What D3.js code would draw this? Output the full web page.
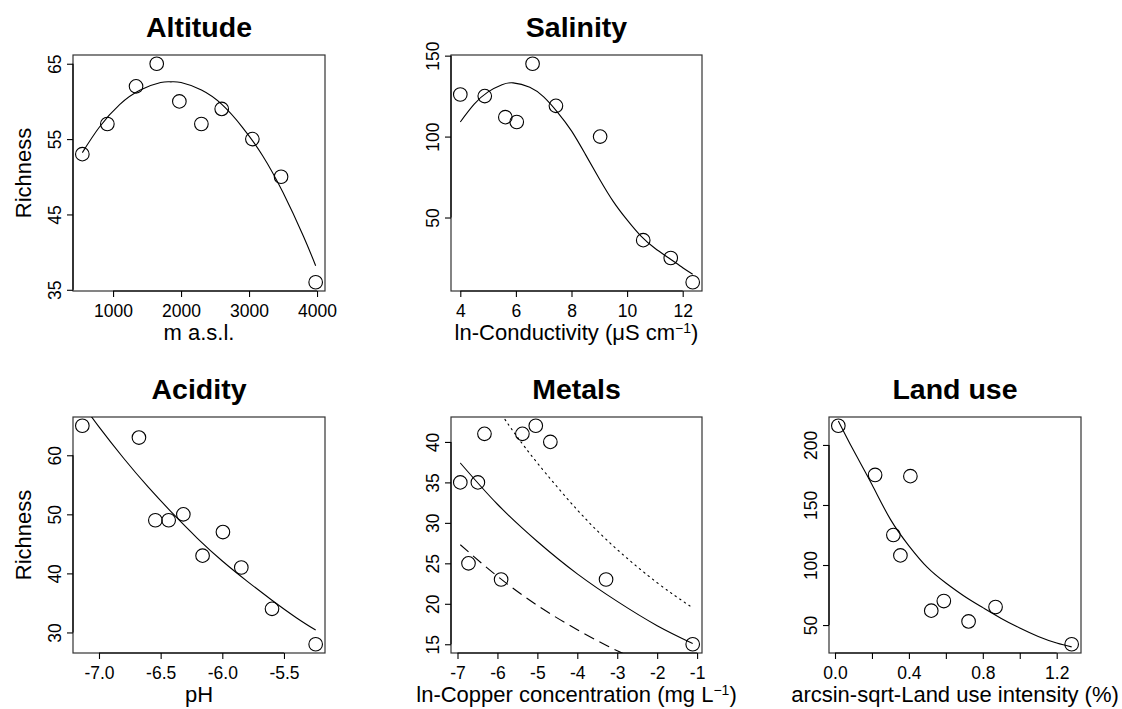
<!DOCTYPE html>
<html>
<head>
<meta charset="utf-8">
<script src="https://cdn.jsdelivr.net/npm/d3@7"></script>
<style>
  html, body { margin: 0; padding: 0; background: #fff; }
  svg { display: block; }
  text { font-family: "Liberation Sans", Arial, Helvetica, sans-serif; fill: #000; }
</style>
</head>
<body>
<svg id="chart" width="1122" height="709"></svg>
<script>
// ---------------- DATA ----------------
const titles = ["Altitude", "Salinity", "Acidity", "Metals", "Land use"];

// Altitude
const altitudeX = [548, 916, 1338, 1642, 1975, 2299, 2598, 3049, 3471, 3980];
const altitudeY = [53, 57, 62, 65, 60, 57, 59, 55, 50, 36];
const altitudeFitX = [548, 800, 1100, 1400, 1700, 1850, 2000, 2300, 2600, 2900, 3200, 3500, 3800, 3980];
const altitudeFitY = [53.2, 56.6, 59.6, 61.5, 62.5, 62.6, 62.5, 61.5, 59.6, 56.6, 52.8, 47.9, 42.1, 38.2];
const altitudeXTicks = [1000, 2000, 3000, 4000];
const altitudeYTicks = [35, 45, 55, 65];

// Salinity
const salinityX = [4.0, 4.88, 5.62, 6.03, 6.6, 7.44, 9.03, 10.58, 11.57, 12.36];
const salinityY = [126, 125, 112, 109, 145, 119, 100, 36, 25, 10];
const salinityFitX = [4.0, 4.5, 5.0, 5.5, 5.9, 6.5, 7.0, 7.5, 8.0, 8.5, 9.0, 9.5, 10.0, 10.5, 11.0, 11.5, 12.0, 12.36];
const salinityFitY = [109, 120, 127.6, 132, 133.2, 130.5, 124.5, 115, 103.5, 89, 74, 60, 48.5, 38.5, 31, 25, 19, 15];
const salinityXTicks = [4, 6, 8, 10, 12];
const salinityYTicks = [50, 100, 150];

// Acidity
const acidityX = [-7.135, -6.676, -6.543, -6.435, -6.316, -6.16, -5.995, -5.846, -5.597, -5.243];
const acidityY = [65, 63, 49, 49, 50, 43, 47, 41, 34, 28];
const acidityFitX = [-7.135, -7.0, -6.8, -6.6, -6.4, -6.2, -6.0, -5.8, -5.6, -5.4, -5.243];
const acidityFitY = [68.7, 64.8, 59.5, 54.6, 50.1, 45.9, 42.1, 38.7, 35.5, 32.5, 30.4];
const acidityXTicks = [-7.0, -6.5, -6.0, -5.5];
const acidityYTicks = [30, 40, 50, 60];

// Metals
const metalsX = [-6.93, -6.49, -6.325, -5.375, -5.04, -4.675, -6.725, -5.908, -3.28, -1.11];
const metalsY = [35, 35, 41, 41, 42, 40, 25, 23, 23, 15];
const metalsFitX = [-6.93, -6, -5, -4, -3, -2, -1.11];
const metalsSolidY = [37.4, 32.3, 27.7, 23.7, 20.3, 17.3, 15.1];
const metalsDashedY = [27.3, 23.4, 19.8, 16.8, 14.2, 12.0, 10.4];
const metalsDottedX = [-6.93, -6, -5.5, -5, -4, -3, -2, -1.17];
const metalsDottedY = [51.6, 44.2, 40.6, 37.4, 31.6, 26.7, 22.6, 19.7];
const metalsXTicks = [-7, -6, -5, -4, -3, -2, -1];
const metalsYTicks = [15, 20, 25, 30, 35, 40];

// Land use
const landX = [0.018, 0.217, 0.408, 0.316, 0.354, 0.521, 0.589, 0.723, 0.869, 1.281];
const landY = [216, 175, 174, 125, 108, 62, 70, 53, 65, 34];
const landFitX = [0.018, 0.1, 0.2, 0.3, 0.4, 0.5, 0.6, 0.7, 0.8, 0.9, 1.0, 1.1, 1.2, 1.281];
const landFitY = [220, 195.5, 167, 138, 116, 98, 85, 74, 64.5, 55.5, 47.5, 40.5, 35, 31.8];
const landXTicks = [0, 0.2, 0.4, 0.6, 0.8, 1.0, 1.2];
const landXLabelled = [0, 0.4, 0.8, 1.2];
const landYTicks = [50, 100, 150, 200];

// ---------------- DRAWING ----------------
const svg = d3.select("#chart");
const TICK_FS = 17.5, LAB_FS = 22, TITLE_FS = 28.5;
const hy = s => s.replace(/\u2212/g, "-");

function padded(vals) {
  const [a, b] = d3.extent(vals);
  const p = (b - a) * 0.04;
  return [a - p, b + p];
}

let clipId = 0;
function panel(o) {
  const { x0, x1, y0, y1 } = o.box;
  const x = d3.scaleLinear().domain(padded(o.xs)).range([x0, x1]);
  const y = d3.scaleLinear().domain(padded(o.ys)).range([y1, y0]);
  const g = svg.append("g");

  const cid = "clip" + (clipId++);
  svg.append("clipPath").attr("id", cid).append("rect")
    .attr("x", x0).attr("y", y0).attr("width", x1 - x0).attr("height", y1 - y0);

  g.append("rect").attr("x", x0).attr("y", y0).attr("width", x1 - x0).attr("height", y1 - y0)
    .attr("fill", "none").attr("stroke", "#333").attr("stroke-width", 1.2);

  const xa = d3.axisBottom(x).tickValues(o.xTicks).tickSize(6).tickPadding(8)
    .tickFormat(o.xFormat);
  const gx = g.append("g").attr("transform", `translate(0,${y1})`).call(xa);
  gx.select(".domain").remove();
  gx.append("line").attr("x1", x(d3.min(o.xTicks))).attr("x2", x(d3.max(o.xTicks)))
    .attr("stroke", "#000").attr("stroke-width", 1.2);
  gx.selectAll(".tick line").attr("stroke", "#000").attr("stroke-width", 1.1);
  gx.selectAll(".tick text").attr("font-size", TICK_FS).attr("fill", "#000")
    .style("font-family", '"Liberation Sans", Arial, sans-serif');

  const ya = d3.axisLeft(y).tickValues(o.yTicks).tickSize(6).tickFormat(d3.format("d"));
  const gy = g.append("g").attr("transform", `translate(${x0},0)`).call(ya);
  gy.select(".domain").remove();
  gy.append("line").attr("y1", y(d3.min(o.yTicks))).attr("y2", y(d3.max(o.yTicks)))
    .attr("stroke", "#000").attr("stroke-width", 1.2);
  gy.selectAll(".tick line").attr("stroke", "#000").attr("stroke-width", 1.1);
  gy.selectAll(".tick text").attr("font-size", TICK_FS).attr("fill", "#000")
    .style("font-family", '"Liberation Sans", Arial, sans-serif')
    .attr("x", null).attr("dy", null).attr("y", null)
    .attr("text-anchor", "middle")
    .attr("transform", "translate(-12.5,0) rotate(-90)");

  g.append("text").attr("x", (x0 + x1) / 2).attr("y", y0 - 18)
    .attr("text-anchor", "middle").attr("font-size", TITLE_FS).attr("font-weight", "bold")
    .text(o.title);

  const xl = g.append("text").attr("x", (x0 + x1) / 2).attr("y", y1 + 48.5)
    .attr("text-anchor", "middle").attr("font-size", LAB_FS);
  o.xLabel(xl);

  if (o.yLabel) {
    g.append("text").attr("transform", `translate(31,${(y0 + y1) / 2}) rotate(-90)`)
      .attr("text-anchor", "middle").attr("font-size", LAB_FS).text(o.yLabel);
  }

  const line = d3.line().x(d => x(d[0])).y(d => y(d[1])).curve(d3.curveNatural);
  (o.fits || []).forEach(f => {
    const pts = f.xs.map((v, i) => [v, f.ys[i]]);
    g.append("path").attr("d", line(pts)).attr("fill", "none")
      .attr("stroke", "#000").attr("stroke-width", 1.1)
      .attr("stroke-dasharray", f.dash || null)
      .attr("stroke-linecap", f.dash === "1.4,4.2" ? "round" : "butt")
      .attr("clip-path", `url(#${cid})`);
  });

  g.selectAll(null).data(o.xs.map((v, i) => [v, o.ys[i]])).enter().append("circle")
    .attr("cx", d => x(d[0])).attr("cy", d => y(d[1])).attr("r", 6.8)
    .attr("fill", "none").attr("stroke", "#000").attr("stroke-width", 1.1);
}

const intFmt = d => hy(d3.format("d")(d));

function supLabel(t, main) {
  t.append("tspan").text(main);
  t.append("tspan").attr("dy", -7).attr("font-size", 14).text("\u22121");
  t.append("tspan").attr("dy", 7).text(")");
}

panel({
  title: titles[0], box: { x0: 73, x1: 325, y0: 55, y1: 291 },
  xs: altitudeX, ys: altitudeY, xTicks: altitudeXTicks, yTicks: altitudeYTicks,
  xFormat: intFmt, yLabel: "Richness",
  xLabel: t => t.text("m a.s.l."),
  fits: [{ xs: altitudeFitX, ys: altitudeFitY }]
});

panel({
  title: titles[1], box: { x0: 451, x1: 702, y0: 55, y1: 291 },
  xs: salinityX, ys: salinityY, xTicks: salinityXTicks, yTicks: salinityYTicks,
  xFormat: intFmt,
  xLabel: t => supLabel(t, "ln-Conductivity (\u03BCS cm"),
  fits: [{ xs: salinityFitX, ys: salinityFitY }]
});

panel({
  title: titles[2], box: { x0: 73, x1: 325, y0: 417, y1: 653 },
  xs: acidityX, ys: acidityY, xTicks: acidityXTicks, yTicks: acidityYTicks,
  xFormat: d => hy(d3.format(".1f")(d)), yLabel: "Richness",
  xLabel: t => t.text("pH"),
  fits: [{ xs: acidityFitX, ys: acidityFitY }]
});

panel({
  title: titles[3], box: { x0: 451, x1: 702, y0: 417, y1: 653 },
  xs: metalsX, ys: metalsY, xTicks: metalsXTicks, yTicks: metalsYTicks,
  xFormat: intFmt,
  xLabel: t => supLabel(t, "ln-Copper concentration (mg L"),
  fits: [
    { xs: metalsFitX, ys: metalsSolidY },
    { xs: metalsFitX, ys: metalsDashedY, dash: "11,6" },
    { xs: metalsDottedX, ys: metalsDottedY, dash: "1.4,4.2" }
  ]
});

panel({
  title: titles[4], box: { x0: 829, x1: 1081, y0: 417, y1: 653 },
  xs: landX, ys: landY, xTicks: landXTicks, yTicks: landYTicks,
  xFormat: d => landXLabelled.some(v => Math.abs(v - d) < 1e-9) ? hy(d3.format(".1f")(d)) : "",
  xLabel: t => t.text("arcsin-sqrt-Land use intensity (%)"),
  fits: [{ xs: landFitX, ys: landFitY }]
});
</script>
</body>
</html>
